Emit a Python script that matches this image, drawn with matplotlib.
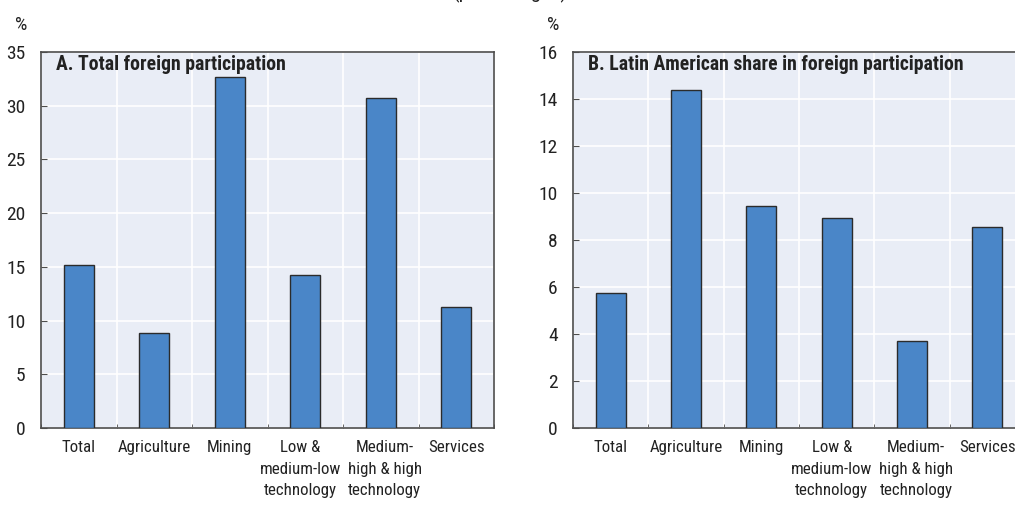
import matplotlib
matplotlib.use("Agg")
import matplotlib.pyplot as plt
import matplotlib.transforms as mtransforms
import numpy as np
from matplotlib import font_manager
from matplotlib.font_manager import FontProperties

def find_font(bold):
    cands = []
    for f in font_manager.fontManager.ttflist:
        fn = f.fname.lower()
        if ('narrow' in fn or 'condensed' in fn) and 'oblique' not in fn and 'italic' not in fn:
            isbold = ('bold' in fn)
            if isbold == bold:
                cands.append(f.fname)
    cands.sort(key=lambda p: (0 if 'liberation' in p.lower() else 1 if 'roboto' in p.lower() else 2, p))
    return cands[0] if cands else None

reg_path = find_font(False)
bold_path = find_font(True)

categories = ["Total", "Agriculture", "Mining", "Low &\nmedium-low\ntechnology",
              "Medium-\nhigh & high\ntechnology", "Services"]
total_foreign = [15.2, 8.8, 32.7, 14.2, 30.7, 11.3]
latam_share = [5.75, 14.4, 9.45, 8.95, 3.7, 8.55]
titles = ["A. Total foreign participation", "B. Latin American share in foreign participation"]
ylims = [(0, 35, 5), (0, 16, 2)]

BG = "#E9EDF6"
BAR = "#4A86C8"
EDGE = "#2B2B2B"
SPINE = "#4D4D4D"

def fp(size, bold=False):
    path = bold_path if bold else reg_path
    if path:
        return FontProperties(fname=path, size=size)
    return FontProperties(family='DejaVu Sans', size=size * 0.8,
                          weight='bold' if bold else 'normal')

W, H = 1015, 507
fig = plt.figure(figsize=(W / 100, H / 100), dpi=100)

axes_px = [(41, 52, 494, 428), (573, 52, 1025, 428)]
pct_x = [21, 553]
datasets = [total_foreign, latam_share]
label_shift_px = [0, 0, 0, -5, 4, 0]

for i, (l, t, r, b) in enumerate(axes_px):
    ax = fig.add_axes([l / W, 1 - b / H, (r - l) / W, (b - t) / H])
    ax.set_facecolor(BG)
    x = np.arange(len(categories))
    ax.bar(x, datasets[i], width=0.4, color=BAR, edgecolor=EDGE, linewidth=1.0, zorder=3)
    lo, hi, step = ylims[i]
    ax.set_ylim(lo, hi)
    ax.set_yticks(np.arange(lo, hi + 0.001, step))
    ax.set_xlim(-0.5, len(categories) - 0.5)
    ax.set_xticks(x)
    ax.set_xticklabels([""] * len(categories))
    for xi, cat, dx in zip(x, categories, label_shift_px):
        tr = ax.get_xaxis_transform() + mtransforms.ScaledTranslation(
            dx / 100, -12 / 100, fig.dpi_scale_trans)
        ax.text(xi, 0, cat, transform=tr, ha='center', va='top', multialignment='center',
                fontproperties=fp(12.2), linespacing=1.55, color='#222222', clip_on=False)
    ax.set_xticks(np.arange(-0.5, len(categories), 1.0), minor=True)
    ax.tick_params(axis='x', which='major', length=0)
    ax.tick_params(axis='x', which='minor', direction='in', length=3, color=SPINE)
    ax.tick_params(axis='y', direction='in', length=4, pad=11,
                   color=SPINE, labelcolor='#222222')
    for lab in ax.get_yticklabels():
        lab.set_fontproperties(fp(14))
    ax.grid(True, axis='y', color='white', linewidth=1.2, zorder=0)
    ax.grid(True, axis='x', which='minor', color='white', linewidth=1.2, zorder=0)
    ax.set_axisbelow(True)
    for s in ax.spines.values():
        s.set_color(SPINE)
        s.set_linewidth(1.2)
    ax.text(15 / (r - l), 1 - 12 / (b - t), titles[i], transform=ax.transAxes,
            fontproperties=fp(14.2, bold=True), va='center', ha='left', color='#222222')
    fig.text(pct_x[i] / W, 1 - 25 / H, "%", fontproperties=fp(14), ha='center',
             va='center', color='#222222')

fig.text(510 / W, 1 + 2 / H, "(percentages)", fontproperties=fp(15), ha='center',
         va='baseline', color='#222222')

fig.savefig("out.png", dpi=100)
